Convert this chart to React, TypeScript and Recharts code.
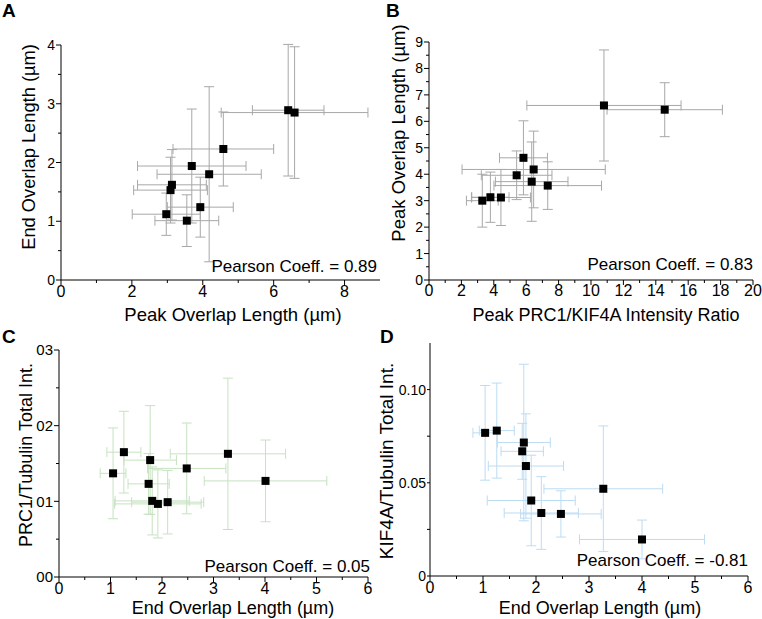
import { ScatterChart, Scatter, XAxis, YAxis, ErrorBar } from 'recharts';

const FONT = '"Liberation Sans", Arial, Helvetica, sans-serif';

// A: peak overlap length vs end overlap length
const aPeak = [6.41, 6.59, 4.58, 3.69, 4.18, 3.13, 3.09, 3.93, 2.97, 3.55];
const aEnd = [2.89, 2.85, 2.23, 1.94, 1.8, 1.62, 1.53, 1.24, 1.12, 1.01];
const aPeakErr = [1.01, 2.07, 1.42, 1.53, 1.47, 0.97, 1.04, 0.93, 0.96, 0.9];
const aEndErr = [1.12, 1.12, 0.63, 0.97, 1.49, 0.6, 0.56, 0.51, 0.36, 0.44];

// B: peak PRC1/KIF4A ratio vs peak overlap length
const bRatio = [10.8, 14.55, 5.83, 6.46, 5.41, 6.34, 7.33, 3.29, 3.79, 4.44];
const bPeak = [6.6, 6.44, 4.62, 4.18, 3.96, 3.72, 3.57, 3.0, 3.13, 3.12];
const bRatioErr = [4.76, 3.56, 1.48, 4.42, 2.18, 2.24, 3.32, 0.98, 1.15, 1.82];
const bPeakErr = [2.1, 1.02, 1.4, 1.45, 0.92, 1.5, 0.9, 1.0, 0.95, 1.06];

// C: end overlap length vs PRC1/tubulin
const cEnd = [1.26, 1.05, 1.77, 2.48, 3.28, 1.74, 1.81, 1.92, 2.11, 4.01];
const cPrc1 = [0.0165, 0.0137, 0.01545, 0.01435, 0.01628, 0.01231, 0.01006, 0.00966, 0.00989, 0.0127];
const cEndErr = [0.33, 0.25, 0.51, 0.76, 1.12, 0.4, 0.72, 0.84, 0.7, 1.19];
const cPrc1Err = [0.0054, 0.006, 0.0072, 0.006, 0.01, 0.004, 0.0045, 0.0045, 0.0042, 0.0054];

// D: end overlap length vs KIF4A/tubulin
const dEnd = [1.04, 1.26, 1.77, 1.74, 1.81, 1.91, 2.1, 2.47, 3.27, 4.0];
const dKif4a = [0.0768, 0.078, 0.0716, 0.0669, 0.059, 0.0405, 0.0338, 0.0333, 0.0468, 0.0196];
const dEndErr = [0.23, 0.33, 0.5, 0.4, 0.71, 0.83, 0.7, 0.76, 1.12, 1.18];
const dKif4aErr = [0.0254, 0.0255, 0.042, 0.015, 0.028, 0.0243, 0.0195, 0.0124, 0.0337, 0.0104];

// ticks ('' = minor tick without label)
const aXTicks = [0, 1, 2, 3, 4, 5, 6, 7, 8];
const aXLabels = ['0', '', '2', '', '4', '', '6', '', '8'];
const aYTicks = [0, 0.5, 1, 1.5, 2, 2.5, 3, 3.5, 4];
const aYLabels = ['0', '', '1', '', '2', '', '3', '', '4'];
const bXTicks = [0, 1, 2, 3, 4, 5, 6, 7, 8, 9, 10, 11, 12, 13, 14, 15, 16, 17, 18, 19, 20];
const bXLabels = ['0', '', '2', '', '4', '', '6', '', '8', '', '10', '', '12', '', '14', '', '16', '', '18', '', '20'];
const bYTicks = [0, 0.5, 1, 1.5, 2, 2.5, 3, 3.5, 4, 4.5, 5, 5.5, 6, 6.5, 7, 7.5, 8, 8.5, 9];
const bYLabels = ['0', '', '1', '', '2', '', '3', '', '4', '', '5', '', '6', '', '7', '', '8', '', '9'];
const endTicks = [0, 0.5, 1, 1.5, 2, 2.5, 3, 3.5, 4, 4.5, 5, 5.5, 6];
const endLabels = ['0', '', '1', '', '2', '', '3', '', '4', '', '5', '', '6'];
const cYTicks = [0, 0.005, 0.01, 0.015, 0.02, 0.025, 0.03];
const cYLabels = ['00', '', '01', '', '02', '', '03'];
const dYTicks = [0, 0.025, 0.05, 0.075, 0.1];
const dYLabels = ['0', '', '0.05', '', '0.10'];

const rows = (xs: number[], ys: number[], ex: number[], ey: number[]) =>
  xs.map((x, i) => ({ x, y: ys[i], ex: ex[i], ey: ey[i] }));

const findLabel = (ticks: number[], labels: string[], v: number) => {
  const i = ticks.findIndex((t) => Math.abs(t - v) < 1e-9);
  return i < 0 ? '' : labels[i];
};

function XTick(props: any) {
  const { x, y, payload, ticks, labels, fontSize, offset } = props;
  const label = findLabel(ticks, labels, payload.value);
  const major = label !== '';
  return (
    <g>
      <line x1={x} y1={y} x2={x} y2={y + (major ? 5 : 3)} stroke="#000" />
      {major && (
        <text x={x} y={y + offset} textAnchor="middle" fontSize={fontSize} fontFamily={FONT} fill="#000">
          {label}
        </text>
      )}
    </g>
  );
}

function YTick(props: any) {
  const { x, y, payload, ticks, labels, fontSize, gap, len } = props;
  const label = findLabel(ticks, labels, payload.value);
  const major = label !== '';
  return (
    <g>
      <line x1={x} y1={y} x2={x - (major ? len : 3)} y2={y} stroke="#000" />
      {major && (
        <text x={x - gap} y={y + fontSize * 0.36} textAnchor="end" fontSize={fontSize} fontFamily={FONT} fill="#000">
          {label}
        </text>
      )}
    </g>
  );
}

const Square = (p: any) => <rect x={p.cx - 4} y={p.cy - 4} width={8} height={8} fill="#000" />;

type PanelProps = {
  left: number;
  top: number;
  width: number;
  height: number;
  margin: { top: number; right: number; left: number; bottom: number };
  yWidth: number;
  xHeight: number;
  data: Array<{ x: number; y: number; ex: number; ey: number }>;
  xDomain: [number, number];
  yDomain: [number, number];
  xTicks: number[];
  xLabels: string[];
  yTicks: number[];
  yLabels: string[];
  xFont: number;
  yFont: number;
  xOffset: number;
  yGap: number;
  yLen: number;
  barColor: string;
};

function Panel(p: PanelProps) {
  return (
    <div style={{ position: 'absolute', left: p.left, top: p.top }}>
      <ScatterChart width={p.width} height={p.height} margin={p.margin}>
        <XAxis
          type="number"
          dataKey="x"
          domain={p.xDomain}
          ticks={p.xTicks}
          interval={0}
          allowDataOverflow
          height={p.xHeight}
          stroke="#000"
          tickLine={false}
          tickSize={0}
          tickMargin={0}
          tick={<XTick ticks={p.xTicks} labels={p.xLabels} fontSize={p.xFont} offset={p.xOffset} />}
        />
        <YAxis
          type="number"
          dataKey="y"
          domain={p.yDomain}
          ticks={p.yTicks}
          interval={0}
          allowDataOverflow
          width={p.yWidth}
          stroke="#000"
          tickLine={false}
          tickSize={0}
          tickMargin={0}
          tick={<YTick ticks={p.yTicks} labels={p.yLabels} fontSize={p.yFont} gap={p.yGap} len={p.yLen} />}
        />
        <Scatter data={p.data} shape={Square} isAnimationActive={false}>
          <ErrorBar dataKey="ex" direction="x" width={5} stroke={p.barColor} strokeWidth={1} isAnimationActive={false} />
          <ErrorBar dataKey="ey" direction="y" width={5} stroke={p.barColor} strokeWidth={1} isAnimationActive={false} />
        </Scatter>
      </ScatterChart>
    </div>
  );
}

export default function App() {
  const txt = { fontFamily: FONT, fill: '#000' };
  return (
    <div style={{ position: 'absolute', left: 0, top: 0, width: 762, height: 619, background: '#fff', overflow: 'hidden' }}>
      <Panel
        left={0} top={0} width={380} height={320}
        margin={{ top: 45, right: 0, left: 0, bottom: 0 }}
        yWidth={61} xHeight={40}
        data={rows(aPeak, aEnd, aPeakErr, aEndErr)}
        xDomain={[0, 9]} yDomain={[0, 4]}
        xTicks={aXTicks} xLabels={aXLabels} yTicks={aYTicks} yLabels={aYLabels}
        xFont={16} yFont={14} xOffset={17} yGap={6} yLen={5}
        barColor="#a8a8a8"
      />
      <Panel
        left={380} top={0} width={382} height={320}
        margin={{ top: 42, right: 9, left: 0, bottom: 0 }}
        yWidth={49} xHeight={40}
        data={rows(bRatio, bPeak, bRatioErr, bPeakErr)}
        xDomain={[0, 20]} yDomain={[0, 9]}
        xTicks={bXTicks} xLabels={bXLabels} yTicks={bYTicks} yLabels={bYLabels}
        xFont={16} yFont={14} xOffset={16} yGap={6} yLen={5}
        barColor="#a8a8a8"
      />
      <Panel
        left={0} top={320} width={380} height={299}
        margin={{ top: 30, right: 12, left: 0, bottom: 0 }}
        yWidth={59} xHeight={42}
        data={rows(cEnd, cPrc1, cEndErr, cPrc1Err)}
        xDomain={[0, 6]} yDomain={[0, 0.03]}
        xTicks={endTicks} xLabels={endLabels} yTicks={cYTicks} yLabels={cYLabels}
        xFont={16} yFont={15} xOffset={17} yGap={6} yLen={5}
        barColor="#c6e2c0"
      />
      <Panel
        left={380} top={320} width={382} height={299}
        margin={{ top: 23, right: 14, left: 0, bottom: 0 }}
        yWidth={50} xHeight={43}
        data={rows(dEnd, dKif4a, dEndErr, dKif4aErr)}
        xDomain={[0, 6]} yDomain={[0, 0.125]}
        xTicks={endTicks} xLabels={endLabels} yTicks={dYTicks} yLabels={dYLabels}
        xFont={16} yFont={14} xOffset={17} yGap={4} yLen={3}
        barColor="#bcdcf2"
      />
      <svg width={762} height={619} style={{ position: 'absolute', left: 0, top: 0, pointerEvents: 'none' }}>
        <text x={2} y={17} fontSize={19} fontWeight="bold" {...txt}>A</text>
        <text x={386} y={17} fontSize={19} fontWeight="bold" {...txt}>B</text>
        <text x={2} y={343} fontSize={19} fontWeight="bold" {...txt}>C</text>
        <text x={380} y={343} fontSize={19} fontWeight="bold" {...txt}>D</text>

        <text x={377} y={272} fontSize={17} textAnchor="end" {...txt}>Pearson Coeff. = 0.89</text>
        <text x={753} y={270} fontSize={17} textAnchor="end" {...txt}>Pearson Coeff. = 0.83</text>
        <text x={370} y={572} fontSize={17} textAnchor="end" {...txt}>Pearson Coeff. = 0.05</text>
        <text x={748} y={566} fontSize={17} textAnchor="end" {...txt}>Pearson Coeff. = -0.81</text>

        <text x={233} y={321} fontSize={18.5} textAnchor="middle" {...txt}>Peak Overlap Length (µm)</text>
        <text x={606} y={321} fontSize={18} textAnchor="middle" {...txt}>Peak PRC1/KIF4A Intensity Ratio</text>
        <text x={233} y={614} fontSize={18} textAnchor="middle" {...txt}>End Overlap Length (µm)</text>
        <text x={600} y={614} fontSize={18} textAnchor="middle" {...txt}>End Overlap Length (µm)</text>

        <text transform="translate(35,147) rotate(-90)" fontSize={18.3} textAnchor="middle" {...txt}>End Overlap Length (µm)</text>
        <text transform="translate(405,133) rotate(-90)" fontSize={18.5} textAnchor="middle" {...txt}>Peak Overlap Length (µm)</text>
        <text transform="translate(32,455) rotate(-90)" fontSize={18} textAnchor="middle" {...txt}>PRC1/Tubulin Total Int.</text>
        <text transform="translate(393,461) rotate(-90)" fontSize={19} textAnchor="middle" {...txt}>KIF4A/Tubulin Total Int.</text>
      </svg>
    </div>
  );
}
